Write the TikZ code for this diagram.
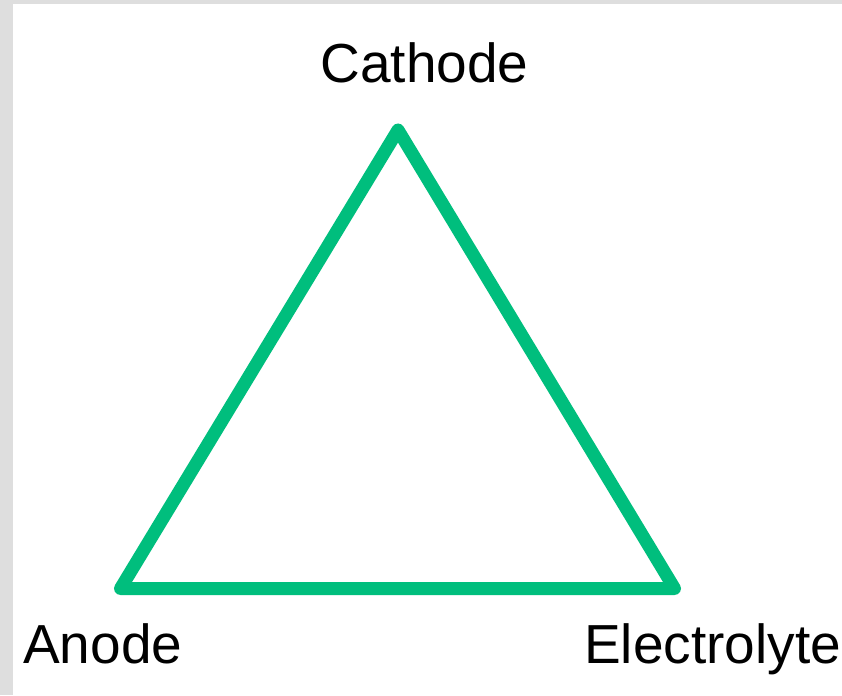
\documentclass[tikz,border=0pt]{standalone}
\usepackage{fontspec}
\setmainfont{Liberation Sans}
\definecolor{tri}{RGB}{0,190,125}
\definecolor{frame}{RGB}{222,222,222}
\tikzset{
  lbl/.style={inner sep=0pt, font=\fontsize{55}{66}\selectfont, text=black},
  side/.style={draw=tri, line width=13pt, line join=round, line cap=round}
}
\begin{document}
\begin{tikzpicture}[x=1pt,y=-1pt]
\useasboundingbox (0,0) rectangle (842,695);
\fill[frame] (0,0) rectangle (842,695);
\fill[white] (12.5,4.5) rectangle (842,695);
\coordinate (C) at (398,130);
\coordinate (A) at (120.5,588.5);
\coordinate (E) at (674.5,588.5);
\draw[side] (A) -- (C) -- (E) -- cycle;
\node[lbl, anchor=base] (cathode) at (424.5,83) {Cathode};
\node[lbl, anchor=base west] (anode) at (23,663) {Anode};
\node[lbl, anchor=base west] (electrolyte) at (584,663) {Electrolyte};
\end{tikzpicture}
\end{document}
